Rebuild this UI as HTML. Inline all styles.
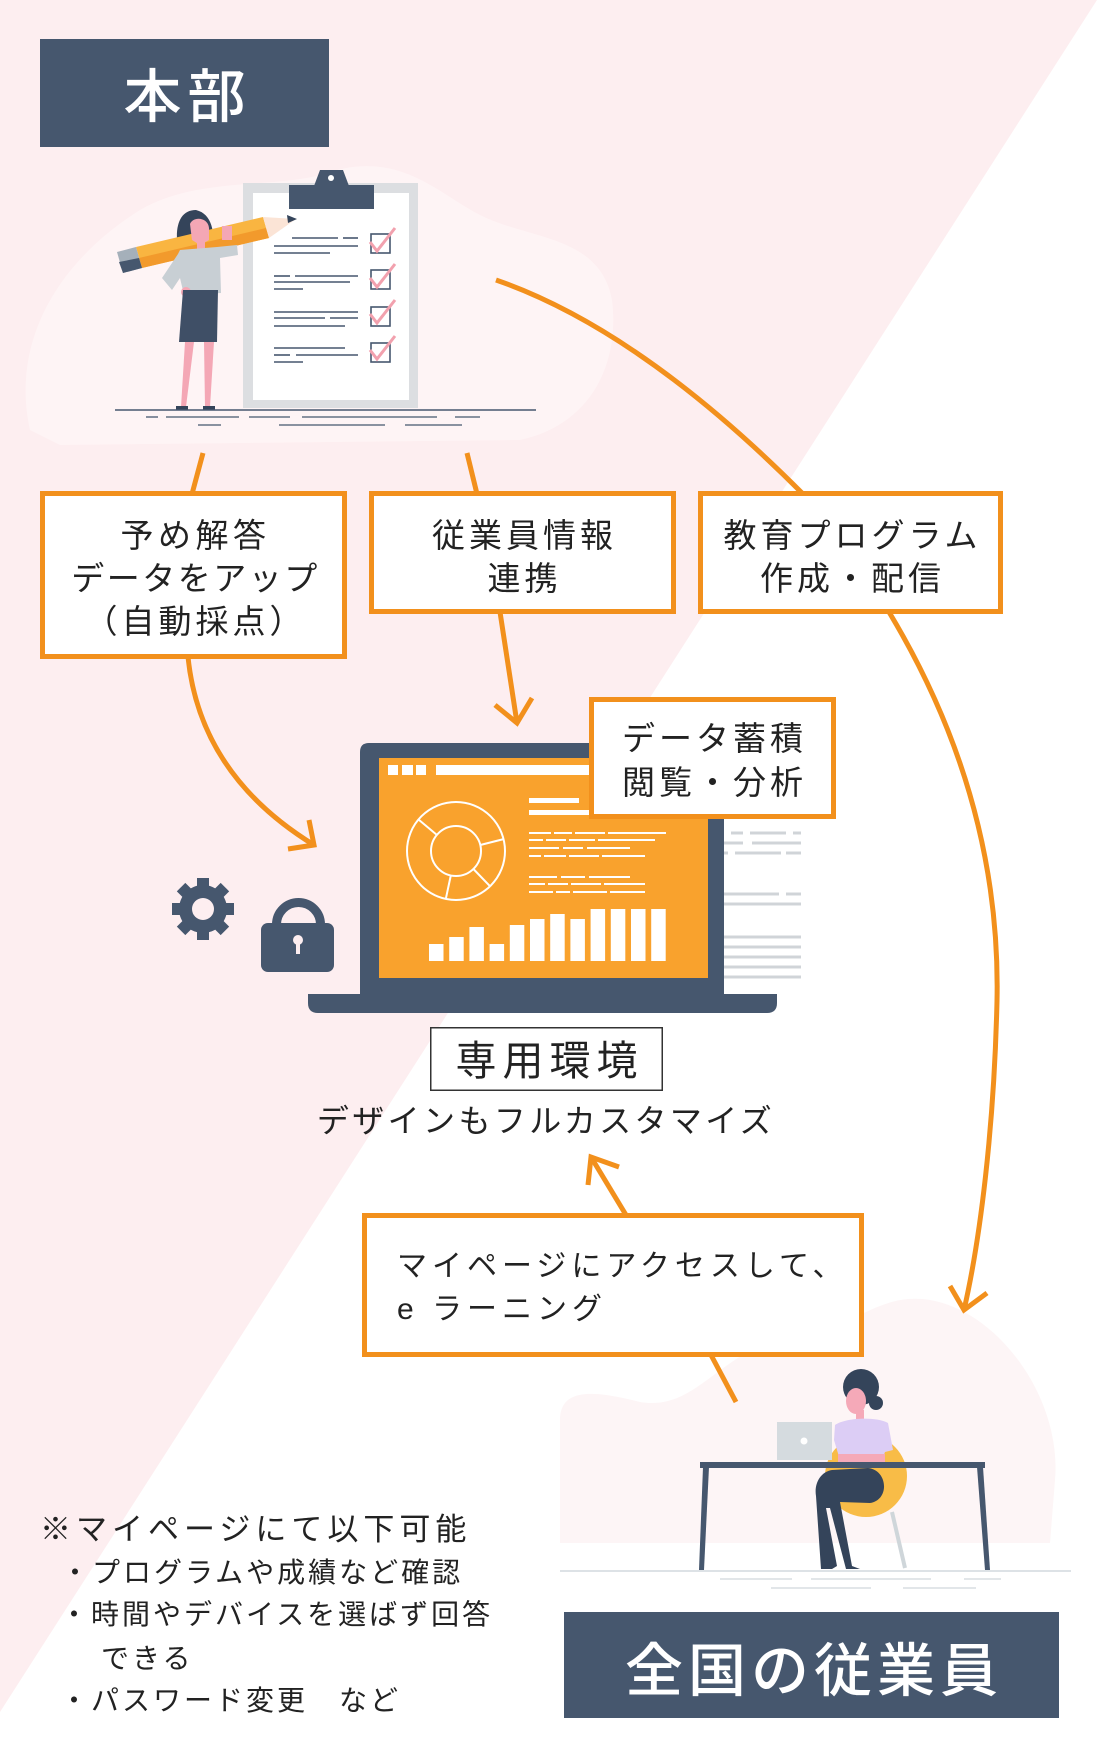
<!DOCTYPE html>
<html><head><meta charset="utf-8">
<style>
html,body{margin:0;padding:0;background:#fff;}
svg{display:block;}
text{font-family:"Liberation Sans","Noto Sans CJK JP",sans-serif;fill:#222;}
</style></head><body>
<svg width="1100" height="1760" viewBox="0 0 1100 1760" xmlns="http://www.w3.org/2000/svg">
<rect width="1100" height="1760" fill="#fff"/>
<polygon points="0,0 1097,0 0,1712" fill="#fdeef0"/>
<!-- faint blobs -->
<path d="M30,430 C10,340 60,260 140,210 C200,175 280,190 330,172 C400,150 440,195 480,215 C530,240 600,235 612,300 C620,365 590,425 520,440 L60,445 Z" fill="#fef4f5"/>
<path d="M560,1543 L560,1420 C560,1385 600,1392 640,1402 C700,1412 720,1345 800,1335 C860,1325 880,1292 930,1300 C1000,1312 1062,1400 1055,1480 L1050,1543 Z" fill="#fdf5f6"/>

<!-- 本部 -->
<rect x="40" y="39" width="289" height="108" fill="#46576e"/>
<text x="187.5" y="117" font-size="58" font-weight="500" style="fill:#fff" text-anchor="middle" letter-spacing="6">本部</text>

<!-- clipboard -->
<rect x="243" y="183" width="175" height="225" fill="#dcdee1"/>
<rect x="253" y="193" width="156" height="207" fill="#fff"/>
<rect x="289" y="185" width="85" height="24" fill="#46576e"/>
<path d="M320,170 L343,170 L349,186 L314,186 Z" fill="#46576e"/>
<circle cx="331" cy="178" r="3" fill="#fff"/>
<g stroke="#46576e" stroke-width="1.6">
<line x1="292" y1="238" x2="338" y2="238"/><line x1="343" y1="238" x2="358" y2="238"/>
<line x1="274" y1="246" x2="358" y2="246"/><line x1="274" y1="253" x2="330" y2="253"/>
<line x1="274" y1="276" x2="290" y2="276"/><line x1="295" y1="276" x2="358" y2="276"/>
<line x1="274" y1="282" x2="350" y2="282"/><line x1="274" y1="289" x2="303" y2="289"/>
<line x1="274" y1="312" x2="358" y2="312"/><line x1="274" y1="318" x2="325" y2="318"/><line x1="330" y1="318" x2="358" y2="318"/>
<line x1="274" y1="326" x2="345" y2="326"/>
<line x1="274" y1="348" x2="345" y2="348"/><line x1="274" y1="355" x2="290" y2="355"/><line x1="296" y1="355" x2="358" y2="355"/>
<line x1="274" y1="362" x2="303" y2="362"/>
</g>
<g fill="none" stroke="#46576e" stroke-width="1.6">
<rect x="371" y="234" width="19" height="19"/><rect x="371" y="270" width="19" height="19"/>
<rect x="371" y="307" width="19" height="19"/><rect x="371" y="343" width="19" height="19"/>
</g>
<g fill="none" stroke="#f2a1ae" stroke-width="3">
<path d="M370,242 L377,251 L395,228"/><path d="M370,278 L377,287 L395,264"/>
<path d="M370,314 L377,323 L395,300"/><path d="M370,350 L377,359 L395,336"/>
</g>
<!-- woman top-left -->
<path d="M196,210 C182,210 176,222 177,240 C177,252 178,262 184,266 L214,262 C214,240 216,215 196,210 Z" fill="#34445a"/>
<polygon points="136,247 263,217 269,238 142,268" fill="#f9b541"/>
<polygon points="139,258 266,228 269,238 142,268" fill="#f29a2c"/>
<polygon points="117,252 136,247 142,268 123,273" fill="#a5b0ba"/>
<polygon points="119,262 139,258 142,268 123,273" fill="#46576e"/>
<polygon points="263,217 296,219 269,238" fill="#fbe4d6"/>
<polygon points="287,215 297,219 288,223" fill="#34445a"/>
<path d="M190,224 C193,216 208,217 209,228 L209,240 L200,245 L192,240 Z" fill="#f4a7b5"/>
<rect x="197" y="240" width="8" height="10" fill="#f4a7b5"/>
<path d="M180,250 L217,247 L237,245 L238,255 L220,258 L221,293 L184,295 L180,278 L172,290 L162,278 L178,254 Z" fill="#c8cfd4"/>
<rect x="222" y="226" width="10" height="14" fill="#f4a7b5"/>
<circle cx="186" cy="292" r="5" fill="#f4a7b5"/>
<polygon points="183,290 218,290 217,342 179,342" fill="#3f4f66"/>
<polygon points="185,342 194,342 186,407 181,407" fill="#f4a7b5"/>
<polygon points="204,342 214,342 210,407 205,407" fill="#f4a7b5"/>
<rect x="176" y="406" width="12" height="4" fill="#34445a"/><rect x="203" y="406" width="12" height="4" fill="#34445a"/>
<line x1="115" y1="410" x2="536" y2="410" stroke="#46576e" stroke-width="1.5"/>
<g stroke="#46576e" stroke-width="1.3">
<line x1="146" y1="417" x2="158" y2="417"/><line x1="166" y1="417" x2="239" y2="417"/><line x1="249" y1="417" x2="290" y2="417"/>
<line x1="302" y1="417" x2="437" y2="417"/><line x1="455" y1="417" x2="480" y2="417"/>
<line x1="198" y1="425" x2="221" y2="425"/><line x1="279" y1="425" x2="385" y2="425"/><line x1="405" y1="425" x2="462" y2="425"/>
</g>

<!-- connectors -->
<g fill="none" stroke="#f2901c" stroke-width="5">
<path d="M203,453 L192,494"/>
<path d="M188,657 Q200,775 314,845"/>
<path d="M309,820 L314,845 L288,849"/>
<path d="M467,453 L477,494"/>
<path d="M500,612 L517,723"/>
<path d="M495,705 L517,723 L532,698"/>
<path d="M496,280 Q640,330 803,494"/>
<path d="M889,612 C960,730 1000,860 997,1001 C994,1130 980,1240 964,1310"/>
<path d="M950,1286 L964,1310 L987,1293"/>
<path d="M626,1215 L591,1157"/>
<path d="M619,1167 L591,1157 L588,1185"/>
<path d="M711,1355 L736,1402"/>
</g>

<!-- side panel lines -->
<g stroke="#d0d4d8" stroke-width="3">
<line x1="731" y1="833" x2="743" y2="833"/><line x1="750" y1="833" x2="786" y2="833"/><line x1="793" y1="833" x2="801" y2="833"/>
<line x1="724" y1="843" x2="743" y2="843"/><line x1="752" y1="843" x2="801" y2="843"/>
<line x1="724" y1="853" x2="728" y2="853"/><line x1="735" y1="853" x2="781" y2="853"/><line x1="786" y1="853" x2="801" y2="853"/>
<line x1="724" y1="894" x2="779" y2="894"/><line x1="786" y1="894" x2="801" y2="894"/>
<line x1="724" y1="904" x2="801" y2="904"/>
<line x1="724" y1="937" x2="801" y2="937"/><line x1="724" y1="947" x2="801" y2="947"/><line x1="724" y1="957" x2="801" y2="957"/>
<line x1="724" y1="967" x2="801" y2="967"/><line x1="724" y1="977" x2="801" y2="977"/>
</g>

<!-- laptop -->
<path d="M360,752 Q360,743 369,743 L715,743 Q724,743 724,752 L724,995 L360,995 Z" fill="#46576e"/>
<rect x="379" y="758" width="329" height="220" fill="#f9a22d"/>
<path d="M308,994 L777,994 L777,1003 Q777,1013 767,1013 L318,1013 Q308,1013 308,1003 Z" fill="#46576e"/>
<g fill="#fff">
<rect x="388" y="765" width="10" height="10"/><rect x="402" y="765" width="11" height="10"/><rect x="416" y="765" width="10" height="10"/>
<rect x="436" y="765" width="262" height="10"/>
<rect x="529" y="798" width="50" height="5"/><rect x="529" y="810" width="61" height="5"/>
</g>
<g stroke="#fff" stroke-width="2" fill="none">
<circle cx="456" cy="851" r="49"/><circle cx="456" cy="851" r="25"/>
<line x1="436.8" y1="834.9" x2="418.5" y2="819.5"/>
<line x1="480.3" y1="845" x2="503.5" y2="839.1"/>
<line x1="473.4" y1="869" x2="490" y2="886.2"/>
<line x1="450.8" y1="875.5" x2="445.8" y2="898.9"/>
<path d="M529,833 H666" stroke-dasharray="22 3 18 3 30 3 60"/>
<path d="M529,840 H655" stroke-dasharray="14 3 20 3 26 3 60"/>
<path d="M529,848 H630" stroke-dasharray="30 4 20 4 43"/>
<path d="M529,856 H645" stroke-dasharray="12 3 22 3 30 3 50"/>
<path d="M529,877 H630" stroke-dasharray="28 4 24 4 41"/>
<path d="M529,884 H645" stroke-dasharray="16 3 20 3 30 3 50"/>
<path d="M529,892 H645" stroke-dasharray="24 3 14 3 34 3 50"/>
</g>
<g fill="#fff">
<rect x="429" y="944" width="14.5" height="17"/>
<rect x="449.2" y="937" width="14.5" height="24"/>
<rect x="469.4" y="927" width="14.5" height="34"/>
<rect x="489.6" y="944" width="14.5" height="17"/>
<rect x="509.8" y="925" width="14.5" height="36"/>
<rect x="530" y="919" width="14.5" height="42"/>
<rect x="550.2" y="914" width="14.5" height="47"/>
<rect x="570.4" y="919" width="14.5" height="42"/>
<rect x="590.6" y="909" width="14.5" height="52"/>
<rect x="610.8" y="909" width="14.5" height="52"/>
<rect x="631" y="909" width="14.5" height="52"/>
<rect x="651.2" y="909" width="14.5" height="52"/>
</g>

<!-- gear -->
<g transform="translate(203,909)" fill="#46576e">
<circle r="24"/>
<rect x="-6" y="-31" width="12" height="62"/>
<rect x="-6" y="-31" width="12" height="62" transform="rotate(45)"/>
<rect x="-6" y="-31" width="12" height="62" transform="rotate(90)"/>
<rect x="-6" y="-31" width="12" height="62" transform="rotate(135)"/>
<circle r="11" fill="#fdeef0"/>
</g>
<!-- lock -->
<path d="M276.5,926 L276.5,924.5 A22,22 0 0 1 320.5,924.5 L320.5,926" fill="none" stroke="#46576e" stroke-width="9"/>
<rect x="261" y="923" width="73" height="49" rx="7" fill="#46576e"/>
<circle cx="298" cy="940" r="5" fill="#fdeef0"/>
<rect x="296" y="940" width="4" height="14" fill="#fdeef0"/>

<!-- boxes -->
<g fill="#fff" stroke="#f2901c" stroke-width="5">
<rect x="42.5" y="493.5" width="302" height="163"/>
<rect x="371.5" y="493.5" width="302" height="118"/>
<rect x="700.5" y="493.5" width="300" height="118"/>
<rect x="591.5" y="699.5" width="242" height="117"/>
<rect x="364.5" y="1215.5" width="497" height="139"/>
</g>
<g font-size="33" text-anchor="middle" letter-spacing="4">
<text x="195.5" y="547" letter-spacing="4.5">予め解答</text>
<text x="195.5" y="590" letter-spacing="2.5">データをアップ</text>
<text x="195.5" y="633">（自動採点）</text>
<text x="524.5" y="547">従業員情報</text>
<text x="524.5" y="590">連携</text>
<text x="852.5" y="547">教育プログラム</text>
<text x="852.5" y="590">作成・配信</text>
<text x="714.5" y="750">データ蓄積</text>
<text x="714.5" y="794">閲覧・分析</text>
</g>

<!-- 専用環境 -->
<rect x="430.75" y="1027.75" width="231.5" height="62.5" fill="#fff" stroke="#333" stroke-width="1.5"/>
<text x="549.5" y="1075" font-size="41" text-anchor="middle" letter-spacing="6">専用環境</text>
<text x="546" y="1132" font-size="32" text-anchor="middle" letter-spacing="3.4">デザインもフルカスタマイズ</text>

<!-- マイページ -->
<text x="397" y="1276" font-size="30" letter-spacing="5">マイページにアクセスして、</text>
<text x="397" y="1319" font-size="30" letter-spacing="5">e ラーニング</text>

<!-- bottom right illustration -->
<line x1="560" y1="1571" x2="1071" y2="1571" stroke="#dde2e6" stroke-width="2"/>
<g stroke="#d8dde2" stroke-width="1.5">
<line x1="720" y1="1579" x2="792" y2="1579"/><line x1="811" y1="1579" x2="931" y2="1579"/><line x1="964" y1="1579" x2="1001" y2="1579"/>
<line x1="771" y1="1588" x2="871" y2="1588"/><line x1="903" y1="1588" x2="976" y2="1588"/>
</g>
<circle cx="866" cy="1476" r="41" fill="#f8bc47"/>
<line x1="892" y1="1512" x2="905" y2="1568" stroke="#cfd6da" stroke-width="4"/>
<circle cx="861" cy="1387" r="18" fill="#34445a"/>
<circle cx="876" cy="1403" r="7" fill="#34445a"/>
<ellipse cx="856" cy="1401" rx="10" ry="13" fill="#f5a9b8"/>
<rect x="856" y="1410" width="8" height="12" fill="#f5a9b8"/>
<path d="M835,1425 C845,1418 875,1416 888,1423 L893,1450 L885,1452 L882,1460 L840,1460 L834,1440 Z" fill="#dccdf5"/>
<rect x="838" y="1454" width="47" height="8" fill="#f5a9b8"/>
<path d="M868,1468 C888,1470 890,1500 870,1503 L840,1502 L852,1566 L860,1569 L846,1569 L830,1508 L826,1508 L837,1566 L832,1569 L821,1569 L816,1496 C814,1484 820,1472 832,1470 Z" fill="#34445a"/>
<rect x="777" y="1422" width="55" height="38" fill="#d5dbdf"/>
<circle cx="804" cy="1441" r="3.5" fill="#fff"/>
<rect x="700" y="1462" width="285" height="6" fill="#46576e"/>
<polygon points="703,1467 709,1467 704,1570 699,1570" fill="#46576e"/>
<polygon points="977,1467 983,1467 990,1570 985,1570" fill="#46576e"/>

<!-- 全国の従業員 -->
<rect x="564" y="1612" width="495" height="106" fill="#46576e"/>
<text x="814" y="1691" font-size="58" font-weight="500" style="fill:#fff" text-anchor="middle" letter-spacing="5">全国の従業員</text>

<!-- notes -->
<text x="40" y="1540" font-size="31" letter-spacing="5">※マイページにて以下可能</text>
<g font-size="28" letter-spacing="3">
<text x="61" y="1582">・プログラムや成績など確認</text>
<text x="60" y="1624">・時間やデバイスを選ばず回答</text>
<text x="101" y="1668">できる</text>
<text x="60" y="1710">・パスワード変更　など</text>
</g>
</svg>
</body></html>
